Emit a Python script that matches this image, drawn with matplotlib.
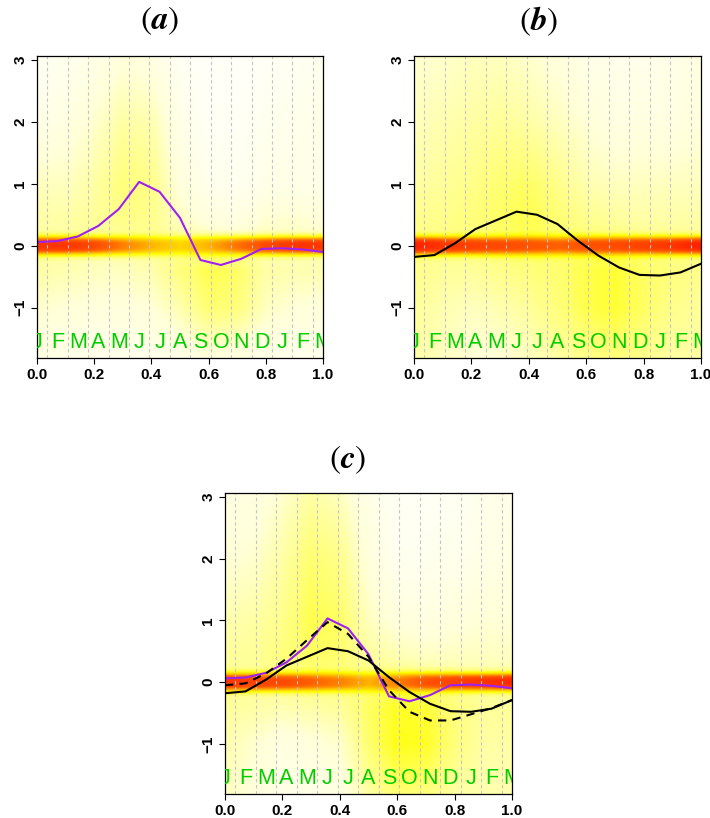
import numpy as np
import matplotlib
matplotlib.use("Agg")
import matplotlib.pyplot as plt
from matplotlib.colors import LinearSegmentedColormap

plt.rcParams["font.family"] = ["Liberation Sans", "DejaVu Sans"]
plt.rcParams["mathtext.fontset"] = "stix"

# curves, one value per month position (k/14)
months = ["J", "F", "M", "A", "M", "J", "J", "A", "S", "O", "N", "D", "J", "F", "M"]
curve_a = [0.06, 0.075, 0.15, 0.32, 0.59, 1.03, 0.87, 0.45, -0.23, -0.31, -0.21,
           -0.05, -0.04, -0.06, -0.10]
curve_b = [-0.18, -0.15, 0.04, 0.27, 0.41, 0.55, 0.50, 0.35, 0.08, -0.16, -0.35,
           -0.47, -0.48, -0.43, -0.29]
curve_c = [-0.05, -0.02, 0.14, 0.38, 0.68, 0.97, 0.78, 0.41, -0.13, -0.48, -0.62,
           -0.62, -0.52, -0.42, -0.29]

# background density (rows = y levels, cols = x levels)
grid_x = [0.0, 0.1, 0.2, 0.3, 0.4, 0.5, 0.6, 0.7, 0.8, 0.9, 1.0]
grid_y = [-1.81, -1.0, -0.4, 0.4, 1.0, 2.0, 3.06]
bg_a = [[.15, .12, .10, .10, .10, .12, .18, .15, .12, .10, .10],
        [.22, .20, .18, .18, .20, .28, .40, .38, .25, .20, .18],
        [.30, .28, .25, .25, .28, .38, .45, .42, .30, .28, .28],
        [.30, .30, .32, .35, .35, .25, .18, .15, .22, .22, .20],
        [.25, .25, .30, .38, .36, .18, .10, .08, .12, .12, .12],
        [.12, .15, .22, .30, .28, .12, .05, .05, .08, .10, .12],
        [.06, .08, .12, .18, .15, .06, .03, .03, .05, .06, .08]]
bg_b = [[.30, .25, .20, .20, .25, .30, .35, .38, .35, .30, .30],
        [.32, .28, .25, .28, .32, .38, .45, .48, .42, .35, .32],
        [.35, .32, .32, .35, .38, .40, .45, .48, .42, .38, .35],
        [.35, .35, .38, .42, .45, .40, .35, .32, .30, .30, .30],
        [.30, .32, .35, .40, .42, .35, .28, .25, .25, .25, .25],
        [.25, .28, .30, .32, .30, .25, .20, .15, .15, .15, .18],
        [.22, .22, .25, .25, .22, .18, .12, .10, .10, .12, .15]]
bg_c = [[.25, .18, .12, .12, .15, .30, .40, .38, .30, .28, .28],
        [.28, .22, .15, .18, .22, .40, .52, .50, .38, .30, .30],
        [.32, .30, .28, .30, .32, .42, .50, .48, .38, .32, .32],
        [.32, .32, .38, .42, .40, .32, .28, .25, .25, .25, .25],
        [.28, .30, .35, .45, .42, .25, .18, .15, .18, .20, .20],
        [.20, .22, .30, .40, .35, .18, .08, .08, .10, .12, .15],
        [.15, .15, .22, .30, .25, .12, .05, .05, .06, .10, .12]]
# strength of the band at y = 0
band_a = [.95, .95, .90, .80, .72, .65, .72, .82, .90, .95, .95]
band_b = [1.0, .95, .92, .90, .88, .85, .88, .90, .92, .95, 1.0]
band_c = [.95, .92, .90, .85, .80, .72, .80, .88, .92, .95, .98]

cmap = LinearSegmentedColormap.from_list("heat", [
    (0.0, "#FFFFFF"), (0.2, "#FFFFD8"), (0.4, "#FFFF70"), (0.55, "#FFFF00"),
    (0.7, "#FFC000"), (0.85, "#FF6000"), (1.0, "#FF2000")])

YLIM = (-1.81, 3.06)


def field(bg, band):
    xs = np.linspace(0, 1, 300)
    ys = np.linspace(YLIM[0], YLIM[1], 400)
    bg = np.array(bg)
    rows = np.array([np.interp(xs, grid_x, r) for r in bg])
    img = np.array([np.interp(ys, grid_y, rows[:, j]) for j in range(len(xs))]).T
    b = np.interp(xs, grid_x, band)
    g = np.exp(-0.5 * (np.abs(ys) / 0.13) ** 3)[:, None]
    return img + (b[None, :] - img) * g


def panel(rect, bg, band, title, title_x, title_y):
    ax = fig.add_axes(rect)
    ax.imshow(field(bg, band), cmap=cmap, vmin=0, vmax=1, origin="lower",
              extent=(0, 1, YLIM[0], YLIM[1]), aspect="auto", interpolation="bilinear")
    for k in range(14):
        ax.axvline((k + 0.5) / 14, color="#C4C4C4", lw=0.8, ls=(0, (3, 2.5)))
    for k, m in enumerate(months):
        ax.text(k / 14, -1.56, m, color="#00CC00", fontsize=15.5, ha="center",
                va="center", clip_on=True)
    ax.set_xlim(0, 1)
    ax.set_ylim(*YLIM)
    ax.set_xticks([0, 0.2, 0.4, 0.6, 0.8, 1.0])
    ax.set_xticklabels(["0.0", "0.2", "0.4", "0.6", "0.8", "1.0"], fontsize=11,
                       fontweight="bold")
    ax.set_yticks([-1, 0, 1, 2, 3])
    ax.set_yticklabels(["\u22121", "0", "1", "2", "3"], fontsize=11,
                       fontweight="bold", rotation=90, va="center")
    ax.tick_params(direction="out", length=4, width=0.8, pad=3)
    for s in ax.spines.values():
        s.set_linewidth(0.9)
    fig.text(title_x / 710, 1 - title_y / 818, title, fontsize=24,
             ha="center", va="center")
    return ax


fig = plt.figure(figsize=(7.1, 8.18), dpi=100)
xk = np.arange(15) / 14

ax = panel([37 / 710, 1 - 358 / 818, 286 / 710, 302 / 818], bg_a, band_a,
           r"$(\mathbfit{a})$", 160, 21)
ax.plot(xk, curve_a, color="#A020F0", lw=1.5)

ax = panel([414 / 710, 1 - 358 / 818, 287 / 710, 302 / 818], bg_b, band_b,
           r"$(\mathbfit{b})$", 539, 21)
ax.plot(xk, curve_b, color="black", lw=1.5)

ax = panel([225 / 710, 1 - 794 / 818, 287 / 710, 301 / 818], bg_c, band_c,
           r"$(\mathbfit{c})$", 348, 460)
ax.plot(xk, curve_a, color="#A020F0", lw=1.5)
ax.plot(xk, curve_b, color="black", lw=1.5)
ax.plot(xk, curve_c, color="black", lw=1.5, ls=(0, (4, 3)))

fig.savefig("out.png", dpi=100)
